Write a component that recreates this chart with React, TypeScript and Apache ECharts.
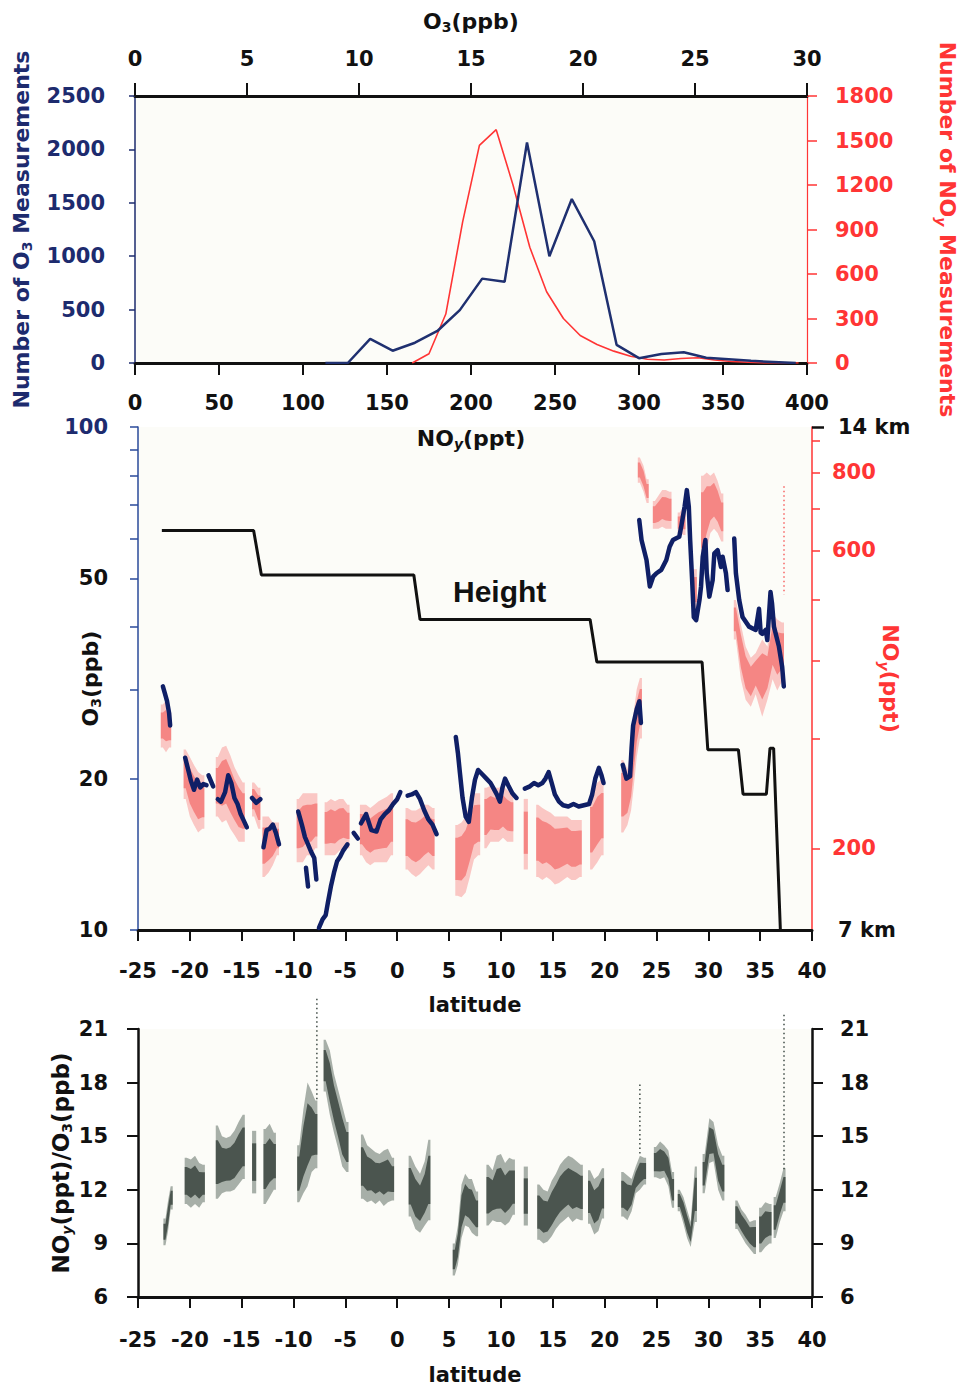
import React, { useEffect, useRef } from "react";
import * as echarts from "echarts";

// ---------- Top panel: histograms ----------
const O3_BIN_PPB = [8.5, 9.5, 10.5, 11.5, 12.5, 13.5, 14.5, 15.5, 16.5, 17.5, 18.5, 19.5, 20.5, 21.5, 22.5, 23.5, 24.5, 25.5, 26.5, 27.5, 28.5, 29.5];
const O3_COUNTS = [0, 0, 225, 115, 190, 300, 495, 790, 760, 2065, 1000, 1535, 1140, 170, 45, 85, 100, 50, 35, 20, 10, 0];
const NOY_BIN_PPT = [165, 175, 185, 195, 205, 215, 225, 235, 245, 255, 265, 275, 285, 295, 305, 315, 325, 335, 345, 355, 365, 375, 385, 395];
const NOY_COUNTS = [0, 62, 330, 950, 1467, 1573, 1200, 780, 480, 300, 185, 125, 80, 45, 25, 20, 30, 35, 20, 10, 5, 0, 0, 0];

// ---------- Middle panel ----------
const O3_LOG_TICKS = [10, 20, 30, 40, 50, 60, 70, 80, 90, 100];
const O3_LOG_LABELS = [10, 20, 50, 100];
const NOY_LOG_TICKS = [200, 300, 400, 500, 600, 700, 800, 900];
const NOY_LOG_LABELS = [200, 600, 800];
const HEIGHT_LABELS = [7, 14];

// O3 (ppb) trace along latitude, one array per continuous piece
const O3_SEGMENTS: number[][][] = [
  [[-22.6, 30.5], [-22.4, 29.5], [-22.2, 28.5], [-22.0, 27], [-21.9, 25.5]],
  [[-20.45, 22.0], [-20.1, 20.6], [-19.9, 19.8], [-19.6, 19.0], [-19.3, 19.9], [-19.0, 19.2], [-18.7, 19.5], [-18.4, 19.4]],
  [[-18.2, 20.3], [-17.75, 19.3]],
  [[-17.3, 18.2], [-17.0, 18.0], [-16.6, 18.8], [-16.3, 20.3], [-16.0, 19.6], [-15.7, 18.3], [-15.4, 17.8], [-15.1, 17.0], [-14.8, 16.5], [-14.5, 16.0]],
  [[-14.0, 18.3], [-13.6, 17.9], [-13.2, 18.2]],
  [[-12.9, 14.6], [-12.6, 15.8], [-12.3, 15.9], [-12.0, 16.2], [-11.7, 15.6], [-11.4, 14.8]],
  [[-9.55, 17.2], [-9.2, 16.2], [-8.9, 15.3], [-8.6, 14.8], [-8.3, 14.3], [-8.0, 13.9], [-7.8, 12.6]],
  [[-8.8, 13.3], [-8.6, 12.2]],
  [[-7.55, 10.1], [-7.2, 10.5], [-6.9, 10.7], [-6.7, 11.3], [-6.4, 12.2], [-6.1, 13.0], [-5.8, 13.7], [-5.5, 14.0], [-5.2, 14.4], [-4.8, 14.8]],
  [[-4.2, 15.6], [-3.8, 15.2]],
  [[-3.5, 16.3], [-3.0, 17.0], [-2.5, 15.8], [-2.0, 15.7], [-1.6, 16.6], [-1.2, 17.0], [-0.8, 17.3], [-0.4, 17.8], [0.0, 18.2], [0.3, 18.8]],
  [[1.0, 18.5], [1.4, 18.6], [1.8, 18.8], [2.2, 18.2], [2.6, 17.3], [3.0, 16.6], [3.4, 16.2], [3.8, 15.5]],
  [[5.65, 24.2], [5.85, 22.5], [6.05, 20.5], [6.3, 18.3], [6.6, 16.8], [6.9, 16.4], [7.2, 18.3], [7.5, 19.9], [7.8, 20.8], [8.2, 20.4], [8.6, 20.0], [9.0, 19.6], [9.3, 19.1], [9.6, 18.6], [9.9, 18.0], [10.15, 19.2], [10.4, 20.0], [10.7, 19.4], [11.1, 18.7], [11.5, 18.3]],
  [[12.3, 19.1], [12.8, 19.3], [13.2, 19.6], [13.6, 19.4], [14.0, 19.6], [14.3, 20.0], [14.6, 20.6], [14.9, 19.6], [15.2, 18.6], [15.6, 18.0], [16.0, 17.7], [16.5, 17.6], [17.0, 17.8], [17.5, 17.6], [18.0, 17.7], [18.5, 17.8], [18.8, 18.6], [19.1, 20.0], [19.45, 21.0], [19.7, 20.3], [19.9, 19.6]],
  [[21.75, 21.3], [22.1, 20.0], [22.45, 20.2], [22.6, 23.0], [22.75, 25.5], [23.1, 27.5], [23.35, 28.5], [23.5, 25.8]],
  [[23.34, 65.3], [23.56, 59.6], [23.72, 57.8], [24.04, 54.4], [24.2, 51.2], [24.36, 48.2], [24.68, 50.4], [25.0, 51.2], [25.47, 52.0], [25.95, 54.4], [26.27, 57.8], [26.59, 59.6], [26.91, 60.1], [27.2, 60.5], [27.39, 63.4], [27.71, 69.4], [27.93, 74.9], [28.12, 69.4], [28.25, 59.6], [28.44, 49.6], [28.6, 41.9], [28.83, 41.3], [29.15, 45.3], [29.3, 48.2], [29.46, 55.2], [29.72, 59.6], [29.85, 51.2], [30.1, 46.0], [30.42, 49.6], [30.58, 56.1], [30.9, 56.9], [31.22, 52.7], [31.38, 55.2], [31.7, 51.2], [31.86, 47.4]],
  [[32.5, 60.0], [32.66, 51.2], [32.98, 45.3], [33.3, 41.9], [33.93, 40.1], [34.57, 39.5], [34.89, 43.5], [35.05, 39.0], [35.21, 38.8], [35.53, 39.5], [35.69, 37.7], [36.0, 47.0], [36.15, 44.5], [36.33, 40.1], [36.81, 36.6], [37.12, 33.4], [37.28, 30.5]],
];

// NOy (ppt) spread per latitude bin, grouped in clouds: [latitude, low, high]
const NOY_CLOUDS: number[][][] = [
  [[-22.6, 290, 340], [-22.3, 285, 345], [-22.0, 290, 330]],
  [[-20.4, 240, 288], [-20.0, 225, 280], [-19.6, 218, 272], [-19.2, 212, 265], [-18.8, 215, 262]],
  [[-17.3, 225, 280], [-16.9, 220, 290], [-16.5, 222, 292], [-16.1, 215, 282], [-15.7, 210, 270], [-15.3, 205, 262], [-14.9, 205, 255]],
  [[-13.8, 225, 255], [-13.4, 215, 250]],
  [[-12.8, 180, 225], [-12.4, 183, 225], [-12.0, 188, 220], [-11.6, 195, 220]],
  [[-9.5, 190, 240], [-9.1, 190, 245], [-8.7, 195, 245], [-8.3, 195, 245], [-7.9, 200, 245]],
  [[-6.8, 195, 237], [-6.4, 195, 240], [-6.0, 195, 238], [-5.6, 198, 240], [-5.2, 200, 240], [-4.8, 200, 235]],
  [[-3.4, 195, 235], [-3.0, 190, 235], [-2.6, 188, 232], [-2.2, 190, 235], [-1.8, 190, 238], [-1.4, 190, 240], [-1.0, 190, 242], [-0.6, 195, 245]],
  [[1.0, 185, 232], [1.4, 182, 230], [1.8, 180, 230], [2.2, 182, 232], [2.6, 185, 235], [3.0, 188, 235], [3.4, 185, 232]],
  [[5.8, 168, 218], [6.2, 167, 220], [6.6, 170, 225], [7.0, 180, 235], [7.4, 192, 245], [7.8, 195, 245]],
  [[8.6, 200, 250], [9.0, 205, 252], [9.4, 205, 250], [9.8, 205, 250], [10.2, 208, 252], [10.6, 205, 248], [11.0, 205, 245]],
  [[12.4, 185, 240]],
  [[13.6, 180, 235], [14.0, 178, 232], [14.4, 180, 230], [14.8, 178, 228], [15.2, 175, 225], [15.6, 176, 225], [16.0, 178, 225], [16.4, 180, 225], [16.8, 178, 222], [17.2, 178, 222], [17.6, 180, 222]],
  [[18.8, 185, 245], [19.3, 190, 255], [19.7, 195, 258]],
  [[21.8, 212, 277], [22.2, 218, 268], [22.55, 230, 290], [22.8, 250, 330], [23.1, 280, 360], [23.4, 300, 375]],
  [[23.4, 770, 845], [23.75, 745, 820], [24.05, 715, 780]],
  [[24.85, 650, 720], [25.2, 650, 735], [25.55, 655, 750], [25.9, 650, 750], [26.25, 650, 745]],
  [[27.25, 640, 690], [27.6, 635, 705]],
  [[28.7, 480, 560]],
  [[29.5, 560, 790], [29.85, 600, 800], [30.2, 640, 790], [30.55, 650, 800], [30.9, 640, 775], [31.25, 620, 740]],
  [[32.66, 432, 500], [33.14, 373, 457], [33.6, 346, 421], [34.1, 337, 404], [34.57, 353, 411], [35.2, 325, 432], [35.7, 346, 421], [36.2, 373, 476], [36.65, 358, 465], [37.1, 370, 460]],
];
const NOY_SPARSE: number[][] = [[37.3, 510, 760]];

// Flight altitude (km) along latitude
const HEIGHT_KM: number[][] = [
  [-22.7, 12.56], [-13.85, 12.56], [-13.1, 11.94], [1.6, 11.94], [2.2, 11.32], [18.6, 11.32], [19.25, 10.73],
  [29.4, 10.73], [29.95, 9.51], [32.9, 9.51], [33.35, 8.89], [35.6, 8.89], [35.95, 9.53], [36.3, 9.53], [36.95, 7.0],
];

// ---------- Bottom panel: NOy/O3 ratio spread, grouped in clouds: [latitude, low, high] ----------
const RATIO_CLOUDS: number[][][] = [
  [[-22.35, 8.9, 10.4], [-22.1, 9.7, 11.4], [-21.85, 10.9, 12.2]],
  [[-20.3, 11.2, 13.8], [-19.9, 11.0, 13.7], [-19.5, 11.2, 13.9], [-19.1, 11.0, 13.5], [-18.75, 11.3, 13.4]],
  [[-17.3, 11.5, 15.6], [-16.9, 11.8, 15.0], [-16.5, 11.9, 14.9], [-16.1, 11.9, 15.0], [-15.7, 12.0, 15.3], [-15.3, 12.3, 15.8], [-14.9, 12.6, 16.2]],
  [[-13.8, 11.8, 15.3]],
  [[-12.7, 11.2, 15.4], [-12.3, 11.6, 15.7], [-11.9, 12.0, 15.2]],
  [[-9.45, 11.3, 14.5], [-9.05, 11.8, 16.5], [-8.65, 12.2, 18.0], [-8.25, 13.0, 17.5], [-7.9, 13.2, 17.0]],
  [[-6.9, 17.5, 20.4], [-6.5, 16.2, 19.8], [-6.1, 15.2, 18.5], [-5.7, 14.3, 17.6], [-5.3, 13.3, 16.7], [-4.9, 13.0, 15.8]],
  [[-3.3, 11.5, 15.1], [-2.9, 11.3, 14.5], [-2.5, 11.4, 14.3], [-2.1, 11.2, 14.1], [-1.7, 11.4, 14.0], [-1.3, 11.1, 14.2], [-0.9, 11.3, 14.3], [-0.5, 11.4, 13.8]],
  [[1.3, 10.5, 13.9], [1.75, 9.8, 13.3], [2.2, 9.6, 12.9], [2.65, 10.0, 13.6], [3.0, 10.3, 14.8]],
  [[5.55, 7.2, 9.0], [5.85, 7.8, 10.0], [6.2, 9.3, 12.3], [6.55, 10.0, 12.9], [6.9, 9.9, 12.6], [7.2, 9.6, 12.6], [7.6, 9.4, 11.9]],
  [[8.8, 10.0, 13.4], [9.2, 10.3, 13.1], [9.6, 10.2, 13.9], [10.0, 10.2, 14.0], [10.4, 10.0, 13.5], [10.8, 10.2, 13.8], [11.15, 10.6, 13.7]],
  [[12.4, 10.0, 13.3]],
  [[13.7, 9.2, 12.3], [14.1, 9.0, 12.0], [14.5, 9.1, 11.9], [14.9, 9.4, 12.5], [15.3, 9.8, 12.9], [15.7, 10.1, 13.4], [16.1, 10.3, 13.7], [16.5, 10.5, 13.9], [16.9, 10.2, 13.8], [17.3, 10.4, 13.6], [17.7, 10.3, 13.4]],
  [[18.6, 10.1, 13.1], [19.0, 9.5, 12.6], [19.4, 9.7, 12.8], [19.75, 10.4, 13.2]],
  [[21.8, 10.5, 13.0], [22.2, 10.3, 12.8], [22.6, 10.8, 12.6], [23.0, 11.8, 13.3], [23.4, 12.0, 13.9], [23.8, 12.3, 13.8]],
  [[24.95, 12.7, 14.4], [25.35, 12.6, 14.7], [25.75, 12.7, 14.5], [26.15, 12.2, 14.2], [26.5, 11.0, 13.0]],
  [[27.25, 10.8, 12.0], [27.6, 10.1, 11.6], [27.95, 9.3, 10.9], [28.3, 8.8, 10.2], [28.7, 10.2, 13.3]],
  [[29.65, 11.8, 14.0], [30.1, 13.5, 16.0], [30.5, 13.6, 15.8], [30.95, 12.0, 14.5], [31.35, 11.4, 13.9]],
  [[32.8, 9.8, 11.4], [33.2, 9.4, 10.9], [33.6, 9.0, 10.6], [34.0, 8.7, 10.2], [34.4, 8.4, 10.3]],
  [[35.1, 8.5, 11.0], [35.5, 8.8, 11.3], [35.9, 9.0, 11.2]],
  [[36.5, 9.3, 11.6], [36.9, 10.2, 12.4], [37.25, 10.8, 13.2]],
];
const RATIO_SPARSE: number[][] = [[-7.75, 17.0, 22.7], [23.4, 14.0, 17.9], [37.3, 13.0, 21.8]];

const FONT = "DejaVu Sans";
const NAVY = "#1d2b6e";
const TRACE = "#0f1f66";
const RED = "#ff3535";
const BLACK = "#111111";

const label = (color: string, margin: number, size = 21) => ({
  fontFamily: FONT, fontWeight: "bold" as const, fontSize: size, color, margin,
  formatter: (v: number) => String(v),
});
const richName = (color: string, size = 22) => ({
  a: { fontFamily: FONT, fontWeight: "bold", fontSize: size, color },
  s: { fontFamily: FONT, fontWeight: "bold", fontSize: Math.round(size * 0.62), color, padding: [12, 0, 0, 0] },
  i: { fontFamily: FONT, fontWeight: "bold", fontStyle: "italic", fontSize: Math.round(size * 0.62), color, padding: [12, 0, 0, 0] },
});

// one polygon per cloud, built through the axes' coordinate mapping
function cloudRenderer(clouds: number[][][], outer: string, inner: string) {
  return (params: any, api: any) => {
    const bins = clouds[api.value(3)];
    const half = 0.2;
    const build = (shrink: number) => {
      const top: number[][] = [];
      const bottom: number[][] = [];
      bins.forEach((b, j) => {
        const span = b[2] - b[1];
        const lo = b[1] + span * shrink;
        const hi = b[2] - span * shrink;
        const xs = bins.length === 1 ? [b[0] - half, b[0] + half]
          : j === 0 ? [b[0] - half, b[0]] : j === bins.length - 1 ? [b[0], b[0] + half] : [b[0]];
        xs.forEach((x) => {
          top.push(api.coord([x, hi]));
          bottom.push(api.coord([x, lo]));
        });
      });
      return top.concat(bottom.reverse());
    };
    return {
      type: "group",
      children: [
        { type: "polygon", shape: { points: build(0) }, style: { fill: outer } },
        { type: "polygon", shape: { points: build(0.2) }, style: { fill: inner } },
      ],
    };
  };
}
function sparse(color: string) {
  return (params: any, api: any) => {
    const x = api.value(0);
    const a = api.coord([x, api.value(2)]);
    const b = api.coord([x, api.value(1)]);
    return {
      type: "line",
      shape: { x1: a[0], y1: a[1], x2: b[0], y2: b[1] },
      style: { stroke: color, lineWidth: 1.5, lineDash: [1.5, 3] },
    };
  };
}
const cloudItems = (clouds: number[][][]) =>
  clouds.map((c, k) => [c[0][0], Math.min(...c.map((b) => b[1])), Math.max(...c.map((b) => b[2])), k]);

export default function App() {
  const ref = useRef<HTMLDivElement>(null);
  useEffect(() => {
    document.body.style.margin = "0";
    const chart = echarts.init(ref.current!, null, { renderer: "svg" });
    const zip = (xs: number[], ys: number[]) => xs.map((x, i) => [x, ys[i]]);
    const latAxis = (grid: number, labelMargin: number, nameGap: number) => ({
      type: "value", gridIndex: grid, min: -25, max: 40, interval: 5, position: "bottom",
      axisLine: { onZero: false, lineStyle: { color: BLACK, width: 3 } },
      axisTick: { length: 11, lineStyle: { color: BLACK, width: 2 } },
      axisLabel: label(BLACK, labelMargin),
      splitLine: { show: false },
      name: "latitude", nameLocation: "middle", nameGap, nameMoveOverlap: false,
      nameTextStyle: { fontFamily: FONT, fontWeight: "bold", fontSize: 21, color: BLACK },
    });
    const ratioAxis = (pos: string, margin: number, withName: boolean) => ({
      type: "value", gridIndex: 2, min: 6, max: 21, interval: 3, position: pos,
      axisLine: { onZero: false, lineStyle: { color: BLACK, width: 2.5 } },
      axisTick: { length: 11, lineStyle: { color: BLACK, width: 2 } },
      axisLabel: label(BLACK, margin),
      splitLine: { show: false },
      ...(withName ? {
        name: "{a|NO}{i|y}{a|(ppt)/O}{s|3}{a|(ppb)}", nameLocation: "middle", nameGap: 64, nameMoveOverlap: false,
        nameTextStyle: { rich: richName(BLACK, 23) },
      } : {}),
    });

    const option: any = {
      animation: false,
      backgroundColor: "#ffffff",
      grid: [
        { left: 135, right: 156, top: 96, height: 267, show: true, backgroundColor: "#fcfcf8", borderWidth: 0 },
        { left: 138, right: 154, top: 427, height: 503, show: true, backgroundColor: "#fcfcf8", borderWidth: 0 },
        { left: 138, right: 154, top: 1029, height: 268, show: true, backgroundColor: "#fcfcf8", borderWidth: 0 },
      ],
      xAxis: [
        {
          type: "value", gridIndex: 0, min: 0, max: 400, interval: 50, position: "bottom",
          axisLine: { onZero: false, lineStyle: { color: BLACK, width: 3 } },
          axisTick: { length: 12, lineStyle: { color: BLACK, width: 2 } },
          axisLabel: label(BLACK, 29),
          splitLine: { show: false },
          name: "{a|NO}{i|y}{a|(ppt)}", nameLocation: "middle", nameGap: 62, nameMoveOverlap: false,
          nameTextStyle: { rich: richName(BLACK, 22) },
        },
        {
          type: "value", gridIndex: 0, min: 0, max: 30, interval: 5, position: "top",
          axisLine: { onZero: false, lineStyle: { color: BLACK, width: 3 } },
          axisTick: { length: 13, lineStyle: { color: BLACK, width: 2 } },
          axisLabel: label(BLACK, 27),
          splitLine: { show: false },
          name: "{a|O}{s|3}{a|(ppb)}", nameLocation: "middle", nameGap: 62, nameMoveOverlap: false,
          nameTextStyle: { rich: richName(BLACK, 22) },
        },
        latAxis(1, 30, 64),
        latAxis(2, 32, 67),
      ],
      yAxis: [
        {
          type: "value", gridIndex: 0, min: 0, max: 2500, interval: 500, position: "left",
          axisLine: { show: true, onZero: false, lineStyle: { color: NAVY, width: 1.5 } },
          axisTick: { show: true, length: 6, lineStyle: { color: NAVY, width: 1.5 } },
          axisLabel: label(NAVY, 30),
          splitLine: { show: false },
          name: "{a|Number of O}{s|3}{a| Measurements}", nameLocation: "middle", nameGap: 101, nameMoveOverlap: false,
          nameTextStyle: { rich: richName(NAVY, 22) },
        },
        {
          type: "value", gridIndex: 0, min: 0, max: 1800, interval: 300, position: "right",
          axisLine: { show: true, onZero: false, lineStyle: { color: RED, width: 1.2 } },
          axisTick: { show: true, length: 10, lineStyle: { color: RED, width: 1.5 } },
          axisLabel: label(RED, 28),
          splitLine: { show: false },
          name: "{a|Number of NO}{i|y}{a| Measurements}", nameLocation: "middle", nameGap: 127, nameRotate: -90, nameMoveOverlap: false,
          nameTextStyle: { rich: richName(RED, 22) },
        },
        {
          type: "log", logBase: 10, gridIndex: 1, min: 10, max: 100, position: "left",
          axisLine: { show: true, onZero: false, lineStyle: { color: "#2a4a9a", width: 1.5 } },
          axisTick: { show: true, length: 8, customValues: O3_LOG_TICKS, lineStyle: { color: "#2a4a9a", width: 1.5 } },
          axisLabel: {
            ...label(BLACK, 30), customValues: O3_LOG_LABELS,
            formatter: (v: number) => (v === 100 ? "{n|100}" : String(v)),
            rich: { n: { fontFamily: FONT, fontWeight: "bold", fontSize: 21, color: NAVY } },
          },
          splitLine: { show: false }, minorTick: { show: false },
          name: "{a|O}{s|3}{a|(ppb)}", nameLocation: "middle", nameGap: 35, nameMoveOverlap: false,
          nameTextStyle: { rich: richName(BLACK, 22) },
        },
        {
          type: "log", logBase: 10, gridIndex: 1, min: 148, max: 946, position: "right",
          axisLine: { show: true, onZero: false, lineStyle: { color: RED, width: 1.5 } },
          axisTick: { show: true, length: 8, customValues: NOY_LOG_TICKS, lineStyle: { color: RED, width: 1.5 } },
          axisLabel: { ...label(RED, 20), customValues: NOY_LOG_LABELS },
          splitLine: { show: false },
          name: "{a|NO}{i|y}{a|(ppt)}", nameLocation: "middle", nameGap: 65, nameRotate: -90, nameMoveOverlap: false,
          nameTextStyle: { rich: richName(RED, 22) },
        },
        {
          type: "value", gridIndex: 1, min: 7, max: 14, position: "right",
          axisLine: { show: false, onZero: false },
          axisTick: { show: true, length: 12, customValues: [14], lineStyle: { color: BLACK, width: 2.5 } },
          axisLabel: { ...label(BLACK, 26), customValues: HEIGHT_LABELS, formatter: "{value} km" },
          splitLine: { show: false },
        },
        ratioAxis("left", 30, true),
        ratioAxis("right", 28, false),
      ],
      graphic: [
        { type: "text", left: 453, top: 576, style: { text: "Height", font: "bold 30px 'Liberation Sans'", fill: BLACK } },
      ],
      series: [
        {
          type: "line", name: "O3 counts", xAxisIndex: 1, yAxisIndex: 0, data: zip(O3_BIN_PPB, O3_COUNTS),
          symbol: "none", lineStyle: { color: "#1f3070", width: 2.5 }, z: 3,
        },
        {
          type: "line", name: "NOy counts", xAxisIndex: 0, yAxisIndex: 1, data: zip(NOY_BIN_PPT, NOY_COUNTS),
          symbol: "none", lineStyle: { color: RED, width: 1.6 }, z: 2,
        },
        {
          type: "custom", name: "NOy", xAxisIndex: 2, yAxisIndex: 3, data: cloudItems(NOY_CLOUDS),
          encode: { x: 0, y: [1, 2] },
          renderItem: cloudRenderer(NOY_CLOUDS, "rgba(246,90,90,0.33)", "rgba(240,55,55,0.45)"), z: 2,
        },
        {
          type: "custom", name: "NOy sparse", xAxisIndex: 2, yAxisIndex: 3, data: NOY_SPARSE,
          encode: { x: 0, y: [1, 2] }, renderItem: sparse("rgba(245,60,60,0.8)"), z: 2,
        },
        ...O3_SEGMENTS.map((seg, i) => ({
          type: "line", name: "O3 " + i, xAxisIndex: 2, yAxisIndex: 2, data: seg,
          symbol: "none", lineStyle: { color: TRACE, width: 4.5, cap: "round", join: "round" }, z: 4,
        })),
        {
          type: "line", name: "Height", xAxisIndex: 2, yAxisIndex: 4, data: HEIGHT_KM,
          symbol: "none", lineStyle: { color: BLACK, width: 3 }, z: 5,
        },
        {
          type: "custom", name: "ratio", xAxisIndex: 3, yAxisIndex: 5, data: cloudItems(RATIO_CLOUDS),
          encode: { x: 0, y: [1, 2] },
          renderItem: cloudRenderer(RATIO_CLOUDS, "rgba(50,68,58,0.42)", "rgba(20,30,24,0.62)"), z: 2,
        },
        {
          type: "custom", name: "ratio sparse", xAxisIndex: 3, yAxisIndex: 5, data: RATIO_SPARSE,
          encode: { x: 0, y: [1, 2] }, renderItem: sparse("rgba(30,45,38,0.85)"), z: 2,
        },
      ],
    };
    chart.setOption(option);
    return () => chart.dispose();
  }, []);
  return <div ref={ref} style={{ width: 966, height: 1388 }} />;
}
